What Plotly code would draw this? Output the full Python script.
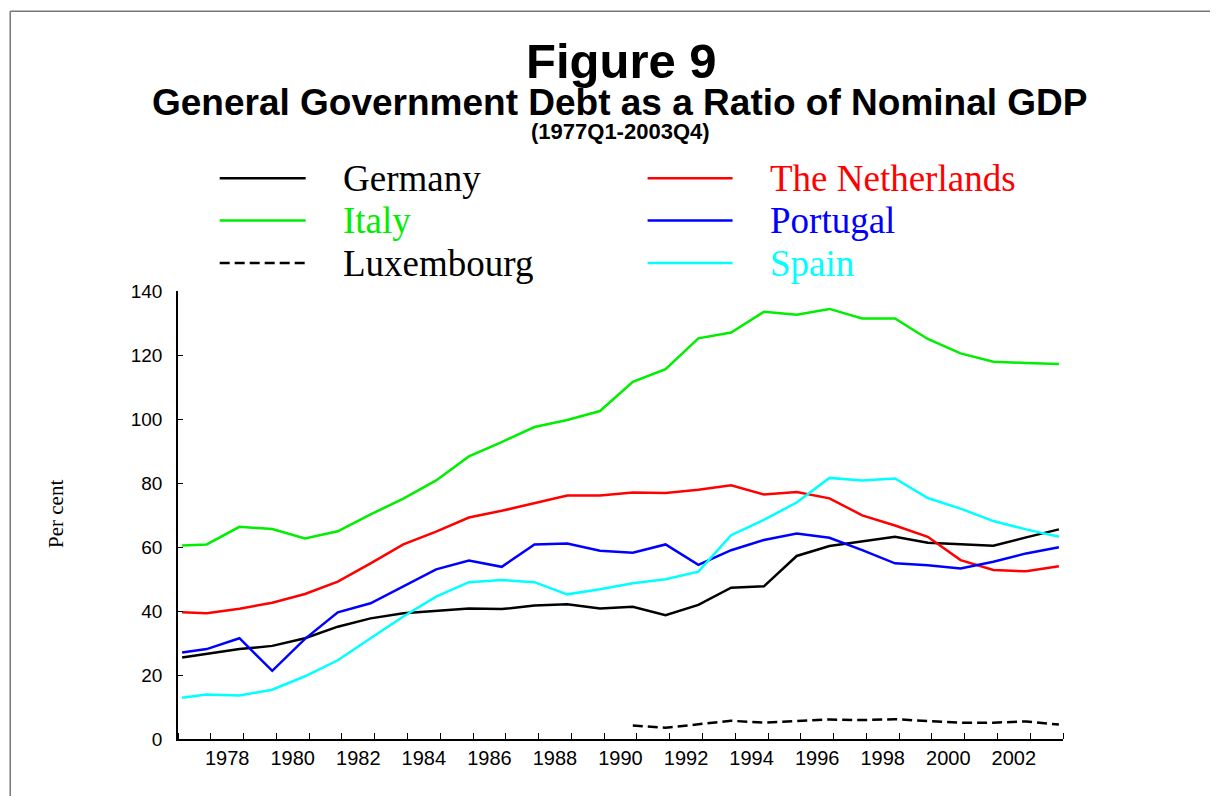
import plotly.graph_objects as go

# x positions: 1977Q1 start, then end-of-year (Q4) points 1977..2003
years = [1977.125] + [y + 0.875 for y in range(1977, 2004)]

germany = [25.5, 26.7, 28.1, 29.1, 31.5, 35.1, 37.7, 39.3, 40.0, 40.8, 40.6, 41.7, 42.1, 40.8,
           41.3, 38.7, 41.9, 47.3, 47.7, 57.2, 60.3, 61.8, 63.2, 61.3, 60.8, 60.4, 63.0, 65.5]
netherlands = [39.6, 39.3, 40.7, 42.6, 45.3, 49.2, 54.9, 60.8, 64.8, 69.2, 71.3, 73.6, 76.1, 76.1,
               77.0, 76.9, 77.9, 79.3, 76.4, 77.2, 75.2, 69.9, 66.7, 63.2, 55.9, 52.8, 52.4, 54.0]
italy = [60.5, 60.8, 66.3, 65.6, 62.7, 64.9, 70.2, 75.1, 80.8, 88.3, 92.8, 97.5, 99.7, 102.5,
         111.6, 115.6, 125.2, 127.0, 133.5, 132.6, 134.4, 131.4, 131.4, 125.0, 120.5, 117.9, 117.5, 117.2]
portugal = [27.0, 28.1, 31.5, 21.3, 31.3, 39.6, 42.4, 47.8, 53.0, 55.8, 53.8, 60.8, 61.1, 58.8,
            58.2, 60.8, 54.4, 59.0, 62.2, 64.2, 62.9, 59.0, 54.9, 54.3, 53.3, 55.4, 58.0, 59.9]
spain = [12.9, 13.9, 13.6, 15.4, 19.6, 24.6, 31.5, 38.3, 44.5, 49.0, 49.7, 49.0, 45.2, 46.8,
         48.7, 49.9, 52.3, 63.7, 68.5, 73.9, 81.6, 80.8, 81.4, 75.3, 72.0, 68.1, 65.5, 63.2]
luxembourg = [None] * 14 + [4.2, 3.5, 4.6, 5.7, 5.1, 5.5, 6.1, 5.9, 6.2, 5.6, 5.1, 5.1, 5.5, 4.5]

ytick_vals = [0, 20, 40, 60, 80, 100, 120, 140]
xlabel_years = list(range(1978, 2003, 2))
xtick_boundaries = list(range(1977, 2005))

OFF = 8  # page body margin
W, H = 1218 - OFF, 796 - OFF
PL, PR, PT, PB = 178.3, 1063.5, 291, 739.5   # target page pixels
PW, PH = PR - PL, PB - PT


def px(x):
    return (x - PL) / PW


def py(y):
    return (PB - y) / PH


series = [
    ("Germany", germany, "#000000", "solid"),
    ("The Netherlands", netherlands, "#FF0000", "solid"),
    ("Italy", italy, "#00EE00", "solid"),
    ("Portugal", portugal, "#0000FF", "solid"),
    ("Luxembourg", luxembourg, "#000000", "10px,5px"),
    ("Spain", spain, "#00FFFF", "solid"),
]

fig = go.Figure()
for name, vals, col, dash in series:
    fig.add_trace(go.Scatter(x=years, y=vals, mode="lines", name=name,
                             line=dict(color=col, width=2.5, dash=dash),
                             connectgaps=False, showlegend=False))

SANS = "Liberation Sans, Arial, sans-serif"
SERIF = "Liberation Serif, Times New Roman, serif"

annotations = [
    dict(text="<b>Figure 9</b>", x=px(622), y=py(61), font=dict(family=SANS, size=49, color="black"),
         xanchor="center", yanchor="middle"),
    dict(text="<b>General Government Debt as a Ratio of Nominal GDP</b>", x=px(620), y=py(102),
         font=dict(family=SANS, size=37, color="black"), xanchor="center", yanchor="middle"),
    dict(text="<b>(1977Q1-2003Q4)</b>", x=px(621), y=py(131), font=dict(family=SANS, size=22, color="black"),
         xanchor="center", yanchor="middle"),
    dict(text="Per cent", x=px(57), y=py(514.5), textangle=-90,
         font=dict(family=SERIF, size=21, color="black"), xanchor="center", yanchor="middle"),
]

shapes = []
legend_layout = [
    ("Germany", "#000000", "solid", 220, 306, 341, 178),
    ("Italy", "#00EE00", "solid", 220, 306, 341, 220.5),
    ("Luxembourg", "#000000", "dash", 220, 306, 341, 263),
    ("The Netherlands", "#FF0000", "solid", 648, 733, 768.6, 178),
    ("Portugal", "#0000FF", "solid", 648, 733, 768.6, 220.5),
    ("Spain", "#00FFFF", "solid", 648, 733, 768.6, 263),
]
for name, col, dash, x0, x1, tx, yy in legend_layout:
    shapes.append(dict(type="line", xref="paper", yref="paper", x0=px(x0), x1=px(x1), y0=py(yy), y1=py(yy),
                       line=dict(color=col, width=2.5, dash="10px,5px" if dash == "dash" else "solid")))
    annotations.append(dict(text=name, x=px(tx), y=py(yy), xanchor="left", yanchor="middle",
                            font=dict(family=SERIF, size=37, color=col)))

# figure frame (top and left edges)
shapes.append(dict(type="line", xref="paper", yref="paper", x0=px(10.5), x1=px(1230), y0=py(11), y1=py(11),
                   line=dict(color="#777777", width=1.5)))
shapes.append(dict(type="line", xref="paper", yref="paper", x0=px(10.5), x1=px(10.5), y0=py(11), y1=py(800),
                   line=dict(color="#777777", width=1.5)))

for a in annotations:
    a.setdefault("xref", "paper")
    a.setdefault("yref", "paper")
    a.setdefault("showarrow", False)

fig.update_layout(
    width=W, height=H,
    margin=dict(l=PL - OFF, r=(W + OFF) - PR, t=PT - OFF, b=(H + OFF) - PB, pad=0),
    paper_bgcolor="white", plot_bgcolor="white",
    font=dict(family=SANS, size=19, color="black"),
    annotations=annotations, shapes=shapes,
    xaxis=dict(range=[1977, 2004], tickvals=[y + 0.5 for y in xlabel_years],
               ticktext=[str(y) for y in xlabel_years], ticks="", showgrid=False, zeroline=False,
               showline=True, linecolor="black", linewidth=1.5,
               tickfont=dict(family=SANS, size=20, color="black"), ticklabelstandoff=0,
               minor=dict(tickvals=xtick_boundaries, ticks="inside", ticklen=6, tickcolor="black",
                          tickwidth=1, showgrid=False)),
    yaxis=dict(range=[0, 140], tickvals=ytick_vals, ticks="inside", ticklen=5, tickcolor="black",
               showgrid=False, zeroline=False, showline=True, linecolor="black", linewidth=1.5,
               tickfont=dict(family=SANS, size=19, color="black"), ticklabelstandoff=10),
    yaxis2=dict(range=[0, 140], tickvals=ytick_vals, ticks="inside", ticklen=5, tickcolor="black",
                overlaying="y", side="right", showgrid=False, zeroline=False, showline=True,
                linecolor="black", linewidth=1.5,
                tickfont=dict(family=SANS, size=19, color="black"), ticklabelstandoff=10),
)

fig.write_html("out.html")
